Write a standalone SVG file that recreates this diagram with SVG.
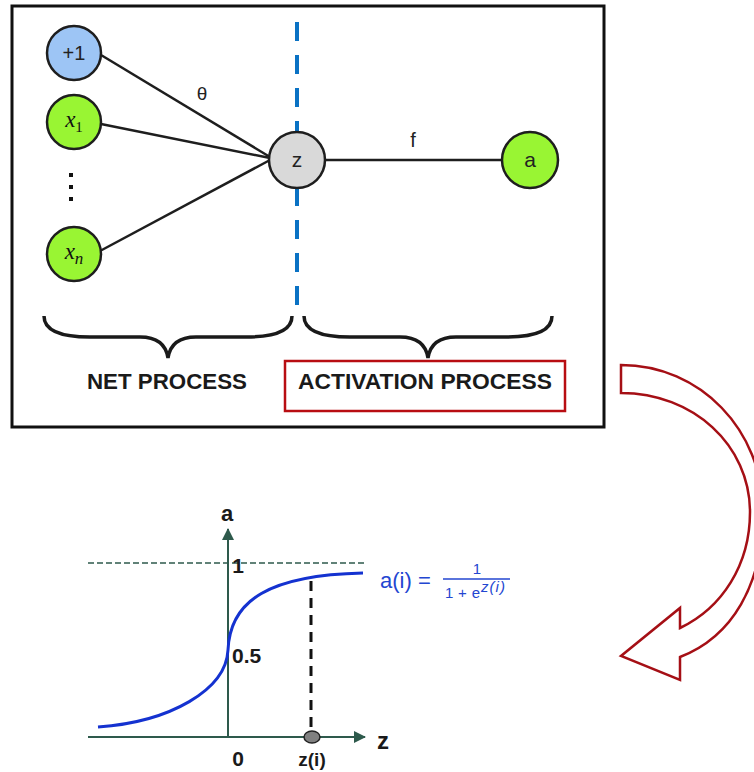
<svg xmlns="http://www.w3.org/2000/svg" width="754" height="772" viewBox="0 0 754 772">
<style>
.node{stroke:#1e1e1e;stroke-width:2.5}
.lbl{font-family:"Liberation Sans",Arial,sans-serif;fill:#222;text-anchor:middle}
.math{font-family:"Liberation Serif","Times New Roman",serif;font-style:italic;fill:#111}
.edge{stroke:#1e1e1e;stroke-width:2.5;fill:none}
.bold{font-family:"Liberation Sans",Arial,sans-serif;font-weight:bold;fill:#1a1a1a}
.axis{stroke:#2e5a4c;stroke-width:2;fill:none}
.blue{fill:#2346d1;font-family:"Liberation Sans",Arial,sans-serif}
</style>
<defs>
<marker id="ah" viewBox="0 0 12 12" refX="11" refY="6" markerWidth="12" markerHeight="12" markerUnits="userSpaceOnUse" orient="auto">
<path d="M0,0 L12,6 L0,12 Z" fill="#2e5a4c"/>
</marker>
</defs>
<rect x="0" y="0" width="754" height="772" fill="#fff"/>
<rect x="12" y="6" width="592" height="421" fill="#fff" stroke="#111" stroke-width="3"/>

<line x1="297" y1="22" x2="297" y2="312" stroke="#0a72c4" stroke-width="4" stroke-dasharray="19,14"/>

<g id="connectors">
<line class="edge" x1="101" y1="55" x2="270" y2="157"/>
<line class="edge" x1="101" y1="124" x2="270" y2="158"/>
<line class="edge" x1="100" y1="251" x2="270" y2="160"/>
<line class="edge" x1="325" y1="160" x2="502" y2="160"/>
<text class="lbl" x="202" y="100" font-size="19">θ</text>
<text class="lbl" x="413" y="147" font-size="20">f</text>
</g>

<g id="n_bias">
<circle class="node" cx="74" cy="53" r="27" fill="#9dc5f5"/>
<text class="lbl" x="74" y="60" font-size="20">+1</text>
</g>
<g id="n_x1">
<circle class="node" cx="74" cy="122" r="27" fill="#99f533"/>
<text x="74" y="127" text-anchor="middle"><tspan class="math" font-size="23">x</tspan><tspan font-family="Liberation Serif,serif" font-size="15" dy="5" fill="#111">1</tspan></text>
</g>
<g id="n_dots">
<rect x="69" y="173" width="4" height="4" fill="#111"/>
<rect x="69" y="185" width="4" height="4" fill="#111"/>
<rect x="69" y="197" width="4" height="4" fill="#111"/>
</g>
<g id="n_xn">
<circle class="node" cx="74" cy="254" r="27" fill="#99f533"/>
<text x="74" y="259" text-anchor="middle"><tspan class="math" font-size="23">x</tspan><tspan class="math" font-size="17" dy="5">n</tspan></text>
</g>
<g id="n_z">
<circle class="node" cx="297" cy="160" r="28" fill="#d9d9d9"/>
<text class="lbl" x="297" y="167" font-size="21" fill="#333">z</text>
</g>
<g id="n_a">
<circle class="node" cx="530" cy="160" r="28" fill="#99f533"/>
<text class="lbl" x="530" y="167" font-size="21">a</text>
</g>

<g id="braces" fill="none" stroke="#1a1a1a" stroke-width="3.5">
<path d="M44,316 C44,330 60,337 90,337 L140,337 C158,337 166,345 168,358 C170,345 178,337 196,337 L246,337 C276,337 292,330 292,316"/>
<path d="M304,316 C304,330 320,337 350,337 L400,337 C418,337 426,345 428,358 C430,345 438,337 456,337 L506,337 C536,337 552,330 552,316"/>
</g>

<g id="net_process">
<text class="bold" x="167" y="389" font-size="22" text-anchor="middle" textLength="160" lengthAdjust="spacingAndGlyphs">NET PROCESS</text>
</g>
<g id="activation_process">
<rect x="285" y="361" width="280" height="50" fill="none" stroke="#b80d12" stroke-width="2.5"/>
<text class="bold" x="425" y="389" font-size="22" text-anchor="middle" textLength="254" lengthAdjust="spacingAndGlyphs">ACTIVATION PROCESS</text>
</g>

<g id="curved_arrow">
<path d="M621,365 C700,365 763,430 763,512 C763,585 732,637 680,657 L680,680 L621,656 L680,608 L680,628 C722,608 750,565 750,512 C750,445 693,393 621,393 Z" fill="#fff" stroke="#a50f15" stroke-width="2.5" stroke-linejoin="miter"/>
</g>

<g id="graph">
<line x1="88" y1="563" x2="366" y2="563" stroke="#2e5a4c" stroke-width="1.5" stroke-dasharray="6,3"/>
<line class="axis" x1="88" y1="737" x2="365" y2="737" marker-end="url(#ah)"/>
<line class="axis" x1="228" y1="737" x2="228" y2="529" marker-end="url(#ah)"/>
<line x1="311" y1="581" x2="311" y2="732" stroke="#111" stroke-width="3" stroke-dasharray="10,7"/>
<path d="M98,727 C170,722 226,690 228,650 C230,600 270,575 363,573" fill="none" stroke="#1432d0" stroke-width="3"/>
<ellipse cx="312" cy="737" rx="8" ry="6" fill="#808080" stroke="#222" stroke-width="1.5"/>
<text class="bold" x="227" y="521" font-size="22" text-anchor="middle">a</text>
<text class="bold" x="238" y="573" font-size="21" text-anchor="middle">1</text>
<text class="bold" x="232" y="663" font-size="21">0.5</text>
<text class="bold" x="238" y="766" font-size="21" text-anchor="middle">0</text>
<text class="bold" x="312" y="766" font-size="19" text-anchor="middle">z(i)</text>
<text class="bold" x="383" y="749" font-size="24" text-anchor="middle">z</text>
<text class="blue" x="380" y="588" font-size="22">a(i) =</text>
<text class="blue" x="477" y="574" font-size="15" text-anchor="middle">1</text>
<line x1="443" y1="579" x2="510" y2="579" stroke="#2346d1" stroke-width="1.5"/>
<text class="blue" x="445" y="598" font-size="15" textLength="35" lengthAdjust="spacing">1+e</text>
<text class="blue" x="481" y="592" font-size="15" font-style="italic" font-family="Liberation Serif,serif" textLength="24" lengthAdjust="spacing">z(i)</text>
</g>
</svg>
